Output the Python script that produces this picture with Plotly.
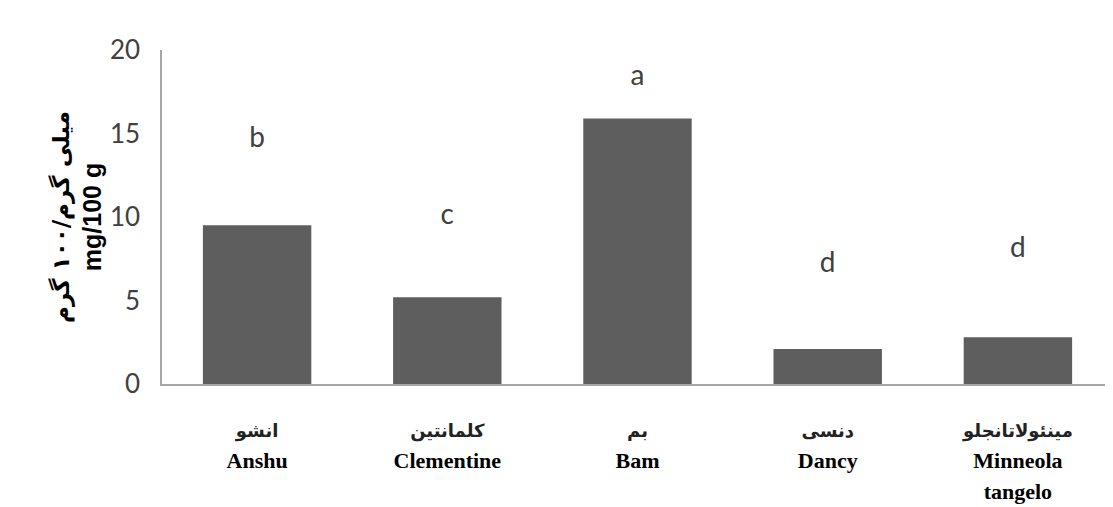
import plotly.graph_objects as go

categories = ["Anshu", "Clementine", "Bam", "Dancy", "Minneola tangelo"]
names_fa = ["انشو", "کلمانتین", "بم", "دنسی", "مینئولاتانجلو"]
names_en = ["Anshu", "Clementine", "Bam", "Dancy", "Minneola<br>tangelo"]
values = [9.5, 5.2, 15.9, 2.1, 2.8]
letters = ["b", "c", "a", "d", "d"]
letter_y = [14.6, 10.0, 18.3, 7.1, 8.0]
y_ticks = [0, 5, 10, 15, 20]

ticktext = [
    f"<b><span style='font-family:DejaVu Sans;font-size:18px;color:#222222'>{fa}</span></b><br>"
    f"<b><span style='font-size:22px'>{en}</span></b>"
    for fa, en in zip(names_fa, names_en)
]

fig = go.Figure()
fig.add_trace(go.Bar(
    x=categories, y=values,
    marker=dict(color="#5e5e5e", line=dict(width=0)),
    showlegend=False,
))
fig.add_trace(go.Scatter(
    x=categories, y=letter_y, text=letters, mode="text",
    textfont=dict(family="Lato", size=28, color="#404040"),
    showlegend=False,
))

# page body has an 8px default margin; size/margins compensate for it
fig.update_layout(
    width=1105, height=499,
    margin=dict(l=154, r=0, t=42, b=123),
    paper_bgcolor="white", plot_bgcolor="white",
    bargap=0.43,
)
fig.update_xaxes(
    tickvals=categories, ticktext=ticktext,
    tickfont=dict(family="Liberation Serif", size=24, color="black"),
    showline=True, linecolor="#a6a6a6", linewidth=1.5,
    showgrid=False, ticks="", ticklabelstandoff=22,
)
fig.update_yaxes(
    range=[0, 20], tickvals=y_ticks,
    tickfont=dict(family="Lato", size=26, color="#404040"),
    showline=True, linecolor="#a6a6a6", linewidth=1.5,
    showgrid=False, zeroline=False, ticks="", ticklabelstandoff=15,
    title=dict(
        text="<b><span style='font-family:DejaVu Sans;font-size:23px'>میلی گرم/۱۰۰ گرم</span></b><br><b>mg/100 g</b>",
        font=dict(family="Liberation Sans", size=25, color="black"),
        standoff=1,
    ),
)

fig.write_html("out.html")
